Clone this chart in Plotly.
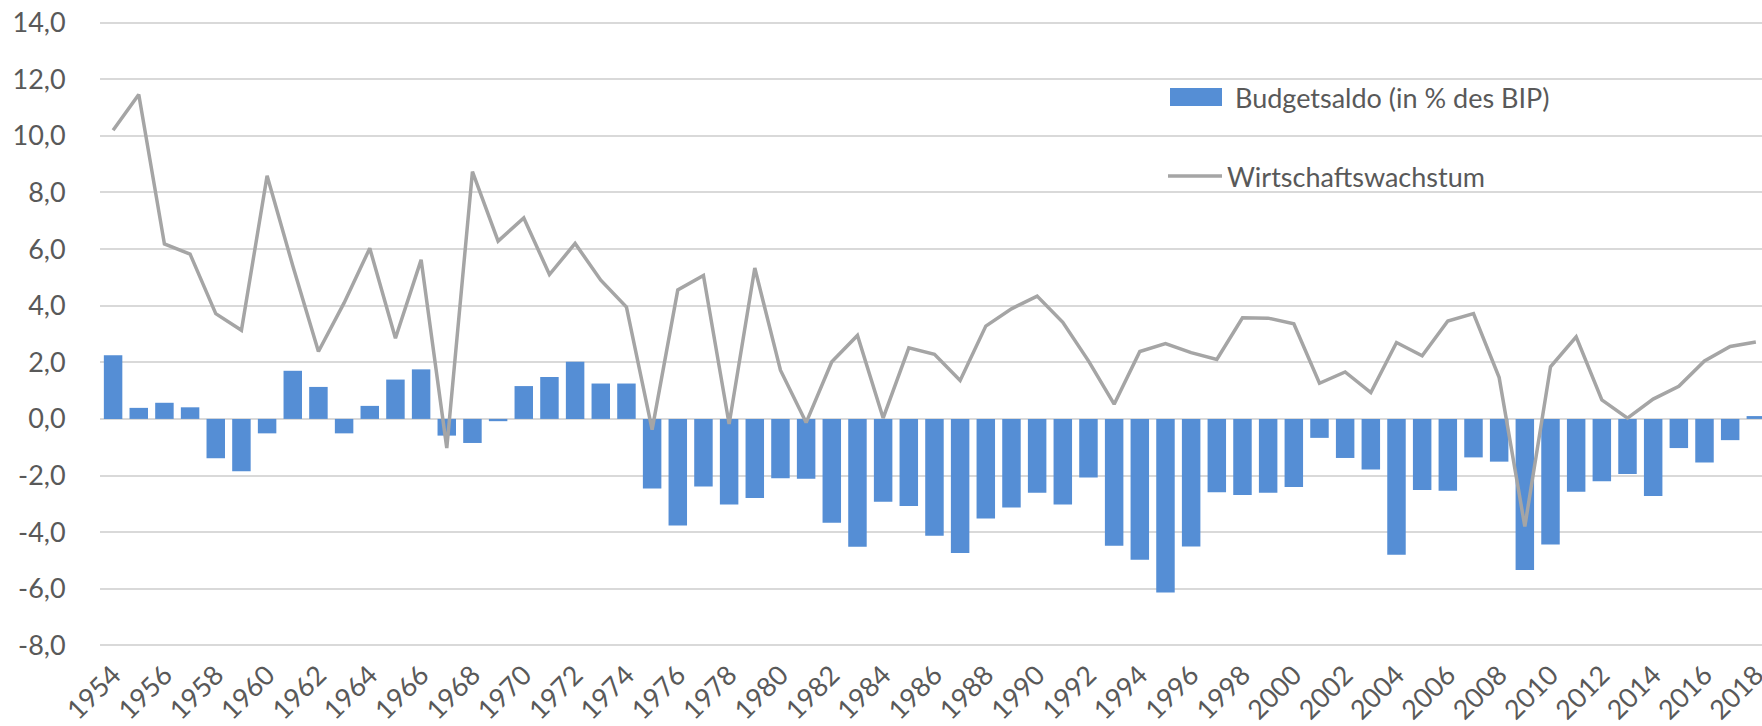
import plotly.graph_objects as go

years = list(range(1954, 2019))

budget_balance = [
    2.25, 0.39, 0.57, 0.41, -1.39, -1.85, -0.51, 1.70, 1.13, -0.51,
    0.46, 1.39, 1.75, -0.59, -0.85, -0.08, 1.16, 1.48, 2.02, 1.25,
    1.25, -2.46, -3.77, -2.39, -3.02, -2.79, -2.10, -2.11, -3.67, -4.52,
    -2.93, -3.08, -4.13, -4.74, -3.52, -3.13, -2.61, -3.02, -2.07, -4.48,
    -4.98, -6.13, -4.51, -2.59, -2.69, -2.61, -2.41, -0.67, -1.38, -1.79,
    -4.80, -2.51, -2.54, -1.36, -1.51, -5.34, -4.44, -2.57, -2.20, -1.95,
    -2.72, -1.03, -1.54, -0.75, 0.10,
]

growth = [
    10.20, 11.46, 6.18, 5.82, 3.72, 3.13, 8.59, 5.41, 2.38, 4.10,
    6.03, 2.85, 5.62, -1.03, 8.74, 6.28, 7.10, 5.10, 6.20, 4.90,
    3.95, -0.38, 4.56, 5.07, -0.18, 5.33, 1.72, -0.13, 2.02, 2.95,
    0.03, 2.51, 2.28, 1.36, 3.28, 3.89, 4.34, 3.41, 2.05, 0.52,
    2.38, 2.66, 2.34, 2.10, 3.57, 3.56, 3.36, 1.26, 1.66, 0.93,
    2.70, 2.23, 3.46, 3.72, 1.46, -3.80, 1.84, 2.90, 0.67, 0.03,
    0.70, 1.15, 2.05, 2.56, 2.72,
]

tick_years = list(range(1954, 2019, 2))
tick_labels = [str(y) for y in tick_years]
y_ticks = list(range(-8, 15, 2))
y_tick_labels = [f"{v},0" for v in y_ticks]

series_names = ["Budgetsaldo (in % des BIP)", "Wirtschaftswachstum"]

W, H = 1762, 726
ML, MR, MT, MB = 100, 0, 17, 75
FONT = "Lato, 'Open Sans', sans-serif"
TXT = "#595959"
BAR_C = "#558ED5"
LINE_C = "#A5A5A5"

fig = go.Figure()
fig.add_trace(go.Bar(x=years, y=budget_balance, name=series_names[0],
                     marker=dict(color=BAR_C, line=dict(width=0))))
fig.add_trace(go.Scatter(x=years, y=growth, name=series_names[1], mode="lines",
                         line=dict(color=LINE_C, width=3.5)))

pw = W - ML - MR
ph = H - MT - MB

def px_x(px):
    return (px - ML) / pw

def px_y(py):
    return (H - MB - py) / ph

shapes = [
    # legend background (covers gridlines)
    dict(type="rect", xref="paper", yref="paper", layer="between",
         x0=px_x(1028), x1=px_x(1708), y0=px_y(225), y1=px_y(45),
         fillcolor="white", line=dict(width=0)),
    dict(type="rect", xref="paper", yref="paper", layer="above",
         x0=px_x(1170), x1=px_x(1222), y0=px_y(106), y1=px_y(88),
         fillcolor=BAR_C, line=dict(width=0)),
    dict(type="line", xref="paper", yref="paper", layer="above",
         x0=px_x(1168), x1=px_x(1222), y0=px_y(176), y1=px_y(176),
         line=dict(color=LINE_C, width=3.5)),
]
annotations = [
    dict(xref="paper", yref="paper", x=px_x(1233), y=px_y(97), text=series_names[0],
         showarrow=False, xanchor="left", yanchor="middle",
         font=dict(family=FONT, size=27, color=TXT)),
    dict(xref="paper", yref="paper", x=px_x(1225), y=px_y(176), text=series_names[1],
         showarrow=False, xanchor="left", yanchor="middle",
         font=dict(family=FONT, size=27, color=TXT)),
]

fig.update_layout(
    width=W, height=H,
    margin=dict(l=ML, r=MR, t=MT, b=MB, pad=0),
    paper_bgcolor="white", plot_bgcolor="white",
    showlegend=False,
    bargap=0.28,
    font=dict(family=FONT, size=27, color=TXT),
    shapes=shapes,
    annotations=annotations,
    xaxis=dict(range=[1953.49, 2018.24], tickmode="array", tickvals=tick_years,
               ticktext=tick_labels, tickangle=-45, showgrid=False, zeroline=False,
               showline=False, ticks="", ticklabelstandoff=2,
               ticklabeloverflow="allow",
               tickfont=dict(family=FONT, size=27, color=TXT), automargin=False),
    yaxis=dict(range=[-8.2, 14.2], tickmode="array", tickvals=y_ticks,
               ticktext=y_tick_labels, showgrid=True, gridcolor="#D9D9D9", gridwidth=1.5,
               zeroline=False, showline=False, ticks="outside", ticklen=28,
               tickcolor="rgba(0,0,0,0)",
               tickfont=dict(family=FONT, size=27, color=TXT), automargin=False),
)

fig.write_html("out.html", config={"displayModeBar": False},
               post_script="document.body.style.margin='0';document.body.style.overflow='hidden';")
